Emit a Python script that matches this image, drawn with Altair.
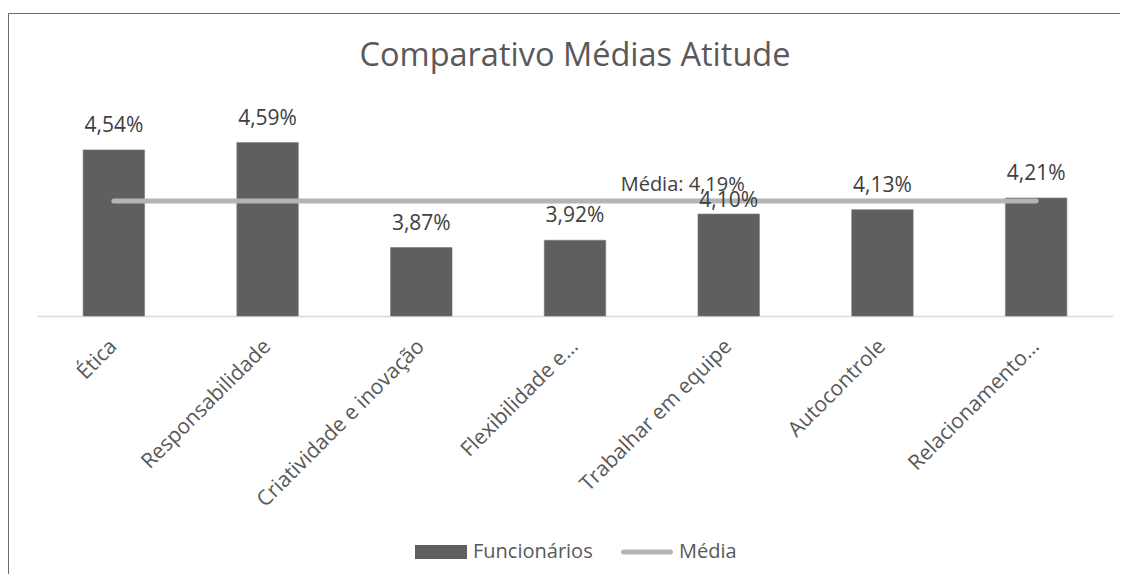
import altair as alt
import pandas as pd

categorias = ["Ética", "Responsabilidade", "Criatividade e inovação", "Flexibilidade e…",
              "Trabalhar em equipe", "Autocontrole", "Relacionamento…"]
funcionarios = [4.54, 4.59, 3.87, 3.92, 4.10, 4.13, 4.21]
media = 4.19
series = ["Funcionários", "Média"]
y_min, y_max = 3.4, 4.8

df = pd.DataFrame({"categoria": categorias, "valor": funcionarios, "media": [media] * len(categorias)})

FONT = "Open Sans"
xscale = alt.Scale(domain=categorias, paddingInner=0.6, paddingOuter=0.3)
yscale = alt.Scale(domain=[y_min, y_max], nice=False, zero=False)

x = alt.X("categoria:N", sort=categorias, scale=xscale,
          axis=alt.Axis(title=None, labelAngle=-45, labelAlign="right", labelBaseline="middle",
                        ticks=False, labelPadding=27, domainColor="#d9d9d9", domainWidth=1.5,
                        labelFont=FONT, labelFontSize=21, labelColor="#595959", grid=False,
                        labelOverlap=False, labelLimit=400))

base = alt.Chart(df)

bars = base.mark_bar(color="#5f5f5f", stroke="#7a7a7a", strokeWidth=0.6).encode(
    x=x, y=alt.Y("valor:Q", scale=yscale, axis=None), y2=alt.datum(y_min))

line = base.mark_line(color="#b4b4b4", strokeWidth=5, strokeCap="round").encode(
    x=x, y=alt.Y("media:Q", scale=yscale, axis=None))

fmt = "replace(format(datum.valor, '.2f'), '.', ',') + '%'"
labels = base.transform_calculate(rotulo=fmt).transform_filter(
    "datum.categoria != 'Trabalhar em equipe'").mark_text(
    dy=-18, baseline="alphabetic", font=FONT, fontSize=21, color="#404040").encode(
    x=x, y=alt.Y("valor:Q", scale=yscale, axis=None), text="rotulo:N")

labels2 = base.transform_calculate(rotulo=fmt).transform_filter(
    "datum.categoria == 'Trabalhar em equipe'").mark_text(
    dy=-7, baseline="alphabetic", font=FONT, fontSize=21, color="#404040").encode(
    x=x, y=alt.Y("valor:Q", scale=yscale, axis=None), text="rotulo:N")

media_df = pd.DataFrame({"categoria": ["Trabalhar em equipe"], "media": [media]})
media_lbl = alt.Chart(media_df).transform_calculate(
    rotulo="'Média: ' + replace(format(datum.media, '.2f'), '.', ',') + '%'").mark_text(
    dx=-46, dy=-10, baseline="alphabetic", font=FONT, fontSize=20, color="#404040").encode(
    x=x, y=alt.Y("media:Q", scale=yscale, axis=None), text="rotulo:N")

rect_path = "M-1,-0.27L1,-0.27L1,0.27L-1,0.27Z"
line_path = "M-0.9,-0.1L0.9,-0.1A0.1,0.1 0 0 1 0.9,0.1L-0.9,0.1A0.1,0.1 0 0 1 -0.9,-0.1Z"
leg = alt.Legend(title=None, orient="none", legendX=378, legendY=414, direction="horizontal",
                 labelFont=FONT, labelFontSize=20, labelColor="#595959", labelOffset=6,
                 columnPadding=28, symbolSize=2704, symbolStrokeWidth=0, padding=0)
legend_layer = alt.Chart(pd.DataFrame({"serie": series})).transform_filter("false").mark_point(
    filled=True, opacity=1).encode(
    color=alt.Color("serie:N", scale=alt.Scale(domain=series, range=["#5f5f5f", "#b4b4b4"]), legend=leg),
    shape=alt.Shape("serie:N", scale=alt.Scale(domain=series, range=[rect_path, line_path]), legend=leg))

frame = alt.Chart(pd.DataFrame({"a": [0]})).mark_rect(
    fill=None, stroke="#6a6a6a", strokeWidth=1).encode(
    x=alt.value(-28.5), x2=alt.value(1090), y=alt.value(-98.5), y2=alt.value(520))

chart = alt.layer(frame, bars, line, labels, labels2, media_lbl, legend_layer).properties(
    width=1076, height=204,
    padding={"left": 29, "top": 104, "right": 7, "bottom": 258},
    autosize=alt.AutoSizeParams(type="none"),
    title=alt.TitleParams("Comparativo Médias Atitude", font=FONT, fontSize=32.5, color="#595959",
                          fontWeight="normal", anchor="middle", frame="group",
                          baseline="bottom", offset=-92),
).configure(background="white").configure_view(stroke=None, strokeWidth=0)

chart.save("out.html", embed_options={"renderer": "svg", "actions": False})
